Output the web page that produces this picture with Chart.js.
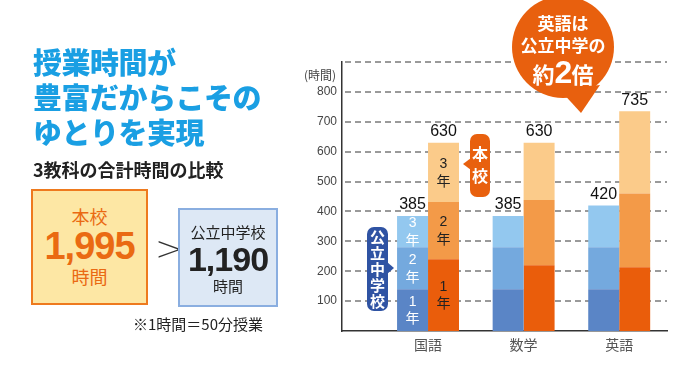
<!DOCTYPE html>
<html lang="ja">
<head>
<meta charset="utf-8">
<script src="https://cdn.jsdelivr.net/npm/chart.js@4/dist/chart.umd.min.js"></script>
<style>
    html, body { margin: 0; padding: 0; background: #fff; }
    body { width: 685px; height: 366px; position: relative; overflow: hidden;
           font-family: "Noto Sans CJK JP", "Noto Sans", sans-serif; }
    #chart { position: absolute; left: 0; top: 0; }
    .abs { position: absolute; }
    .title { left: 33px; top: 44px; font-size: 29px; font-weight: 900; color: #1a9fe3;
             line-height: 35px; letter-spacing: -0.5px; white-space: nowrap; }
    .sub { left: 33px; top: 156px; font-size: 18px; font-weight: 700; color: #222; white-space: nowrap; }
    .box { text-align: center; box-sizing: border-box; }
    .box1 { left: 31px; top: 189px; width: 117px; height: 116px; background: #fde7a4;
            border: 2px solid #ee7a1e; color: #ea6a12; }
    .box2 { left: 178px; top: 208px; width: 100px; height: 99px; background: #dde8f5;
            border: 2px solid #8aaee0; color: #222; }
    .num { font-family: "Liberation Sans", Arial, sans-serif; font-weight: 700; letter-spacing: -1px; }
    .gt { left: 155px; top: 228px; font-size: 34px; color: #333; font-weight: 200;
          font-family: "DejaVu Sans", sans-serif; }
    .note { left: 133px; top: 313px; font-size: 15px; color: #222; white-space: nowrap; }
    .unit { left: 304px; top: 66px; font-size: 12px; color: #444; white-space: nowrap; }
    .tag { color: #fff; font-weight: 700; text-align: center; border-radius: 7px; }
    .tag-kou { left: 367px; top: 227px; width: 21px; height: 84px; background: #2f53a3;
               font-size: 15px; line-height: 16px; padding-top: 2px; box-sizing: border-box; }
    .tag-hon { left: 470px; top: 134px; width: 20px; height: 63px; background: #e8600e;
               font-size: 16px; line-height: 22px; padding-top: 8px; box-sizing: border-box; }
    .bubble-text { left: 513px; width: 100px; text-align: center; color: #fff; font-weight: 700; white-space: nowrap; }
</style>
</head>
<body>
<canvas id="chart" width="685" height="366"></canvas>

<div class="abs title">授業時間が<br>豊富だからこその<br>ゆとりを実現</div>
<div class="abs sub">3教科の合計時間の比較</div>

<div class="abs box box1">
    <div style="font-size:18px; margin-top:14px; line-height:22px;">本校</div>
    <div class="num" style="font-size:38px; line-height:38px;">1,995</div>
    <div style="font-size:18px; line-height:22px;">時間</div>
</div>
<div class="abs gt">&gt;</div>
<div class="abs box box2">
    <div style="font-size:15px; margin-top:12px; line-height:20px;">公立中学校</div>
    <div class="num" style="font-size:34px; line-height:34px;">1,190</div>
    <div style="font-size:15px; line-height:20px;">時間</div>
</div>
<div class="abs note">※1時間＝50分授業</div>

<div class="abs unit">(時間)</div>

<!-- 吹き出し -->
<svg class="abs" style="left:0; top:0;" width="685" height="366">
    <polygon points="387,262 394,268 387,274" fill="#2f53a3"/>
    <polygon points="471,158 463,164 471,170" fill="#e8600e"/>
    <circle cx="563" cy="47" r="51" fill="#e8600e"/>
    <polygon points="560,90 600,85 581,113" fill="#e8600e"/>
</svg>
<div class="abs tag tag-kou">公<br>立<br>中<br>学<br>校</div>
<div class="abs tag tag-hon">本<br>校</div>
<div class="abs bubble-text" style="top:12px; font-size:17px; line-height:22px;">英語は<br>公立中学の</div>
<div class="abs bubble-text" style="top:53px; font-size:22px; line-height:38px;">約<span class="num" style="font-size:32px;">2</span>倍</div>

<script>
// データ
const subjects = ['国語', '数学', '英語'];
const yearLabels = ['1', '2', '3'];

// 公立中学校
const kouY1 = [140, 140, 140];
const kouY2 = [140, 140, 140];
const kouY3 = [105, 105, 140];

// 本校
const honY1 = [240, 220, 213];
const honY2 = [192, 218, 247];
const honY3 = [198, 192, 275];

const yMax = 900;
const yStep = 100;

const kouColors = ['#5a85c6', '#74a9de', '#93c8ef'];
const honColors = ['#ea5d0b', '#f39a48', '#fbcb8a'];

function toPoints(arr) {
    return arr.map((v, i) => ({ x: i, y: v }));
}

const datasets = [
    { label: '公立1年', data: toPoints(kouY1), stack: 'kou', backgroundColor: kouColors[0] },
    { label: '公立2年', data: toPoints(kouY2), stack: 'kou', backgroundColor: kouColors[1] },
    { label: '公立3年', data: toPoints(kouY3), stack: 'kou', backgroundColor: kouColors[2] },
    { label: '本校1年', data: toPoints(honY1), stack: 'hon', backgroundColor: honColors[0] },
    { label: '本校2年', data: toPoints(honY2), stack: 'hon', backgroundColor: honColors[1] },
    { label: '本校3年', data: toPoints(honY3), stack: 'hon', backgroundColor: honColors[2] }
];

// 破線のグリッド
const dashedGrid = {
    id: 'dashedGrid',
    beforeDatasetsDraw(chart) {
        const { ctx, chartArea, scales: { y } } = chart;
        ctx.save();
        ctx.strokeStyle = '#9a9a9a';
        ctx.lineWidth = 2;
        ctx.setLineDash([6, 4]);
        y.ticks.forEach(t => {
            if (t.value === 0) return;
            const py = Math.round(y.getPixelForValue(t.value));
            ctx.beginPath();
            ctx.moveTo(chartArea.left + 3, py);
            ctx.lineTo(chartArea.right, py);
            ctx.stroke();
        });
        ctx.restore();
    }
};

// 合計と学年ラベル
const labelPlugin = {
    id: 'barLabels',
    afterDatasetsDraw(chart) {
        const ctx = chart.ctx;
        ctx.save();
        ctx.textAlign = 'center';

        // 合計
        const groups = [[0, 1, 2], [3, 4, 5]];
        ctx.font = '16px "Liberation Sans", Arial, sans-serif';
        ctx.fillStyle = '#111';
        ctx.textBaseline = 'bottom';
        subjects.forEach((s, i) => {
            groups.forEach(g => {
                const top = chart.getDatasetMeta(g[g.length - 1]).data[i];
                const total = g.reduce((sum, d) => sum + chart.data.datasets[d].data[i].y, 0);
                ctx.fillText(String(total), top.x, top.y - 3);
            });
        });

        // 国語だけ学年ラベル
        ctx.textBaseline = 'middle';
        for (let d = 0; d < 6; d++) {
            const el = chart.getDatasetMeta(d).data[0];
            const cy = (el.y + el.base) / 2;
            ctx.fillStyle = d < 3 ? '#fff' : '#222';
            ctx.font = '14px "Liberation Sans", Arial, sans-serif';
            ctx.fillText(yearLabels[d % 3], el.x, cy - 8);
            ctx.font = '14px "Noto Sans CJK JP", sans-serif';
            ctx.fillText('年', el.x, cy + 8);
        }
        ctx.restore();
    }
};

new Chart(document.getElementById('chart'), {
    type: 'bar',
    data: { datasets: datasets },
    options: {
        responsive: false,
        devicePixelRatio: 1,
        animation: false,
        layout: { padding: { top: 62, right: 18, left: 0, bottom: 0 } },
        categoryPercentage: 0.648,
        barPercentage: 1,
        plugins: { legend: { display: false }, tooltip: { enabled: false } },
        scales: {
            x: {
                type: 'linear',
                offset: false,
                min: -0.9,
                max: 2.5,
                afterBuildTicks: (scale) => { scale.ticks = subjects.map((s, i) => ({ value: i })); },
                afterFit: (scale) => { scale.height = 35; },
                grid: { display: false, drawTicks: false, offset: false },
                border: { display: true, color: '#333', width: 1.5 },
                ticks: {
                    padding: 5,
                    color: '#555',
                    font: { size: 14, family: '"Noto Sans CJK JP", sans-serif' },
                    callback: (v) => subjects[v] || ''
                }
            },
            y: {
                stacked: true,
                min: 0,
                max: yMax,
                afterFit: (scale) => { scale.width = 342; },
                grid: { display: false, drawTicks: false },
                border: { display: true, color: '#333', width: 1.5 },
                ticks: {
                    stepSize: yStep,
                    padding: 5,
                    color: '#444',
                    font: { size: 12, family: '"Liberation Sans", Arial, sans-serif' },
                    callback: (v) => (v === 0 || v === yMax) ? '' : v
                }
            }
        }
    },
    plugins: [dashedGrid, labelPlugin]
});
</script>
</body>
</html>
